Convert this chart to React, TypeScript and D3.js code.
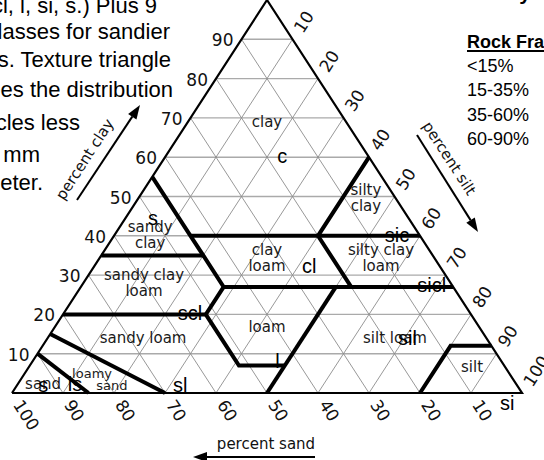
import React from 'react';
import * as d3 from 'd3';

type T3 = [number, number, number]; // [sand, silt, clay]

const gridValues = [10, 20, 30, 40, 50, 60, 70, 80, 90];
const clayTicks = [10, 20, 30, 40, 50, 60, 70, 80, 90];
const sandTicks = [100, 90, 80, 70, 60, 50, 40, 30, 20, 10];
const siltTicks = [10, 20, 30, 40, 50, 60, 70, 80, 90, 100];

const boundaries: T3[][] = [
  [[45, 0, 55], [45, 15, 40], [45, 20, 35], [45, 28, 27], [52, 28, 20], [52, 41, 7], [43, 50, 7]],
  [[65, 0, 35], [45, 20, 35]],
  [[45, 15, 40], [0, 60, 40]],
  [[0, 40, 60], [20, 40, 40], [20, 53, 27]],
  [[45, 28, 27], [0, 73, 27]],
  [[80, 0, 20], [52, 28, 20]],
  [[23, 50, 27], [50, 50, 0]],
  [[20, 80, 0], [8, 80, 12], [0, 88, 12]],
  [[85, 0, 15], [70, 30, 0]],
  [[90, 0, 10], [85, 15, 0]],
];

// class names: lines of text, ternary anchor (centre of first baseline)
const classNames: { lines: string[]; at: T3; size: number }[] = [
  { lines: ['clay'], at: [16.15, 16.15, 67.7], size: 15 },
  { lines: ['silty', 'clay'], at: [5.4, 44.2, 50.4], size: 15 },
  { lines: ['sandy', 'clay'], at: [52.4, 6.6, 41], size: 15 },
  { lines: ['clay', 'loam'], at: [32.45, 32.45, 35.1], size: 15 },
  { lines: ['silty clay', 'loam'], at: [10.1, 54.8, 35.1], size: 15 },
  { lines: ['sandy clay', 'loam'], at: [59.75, 11.5, 28.75], size: 15 },
  { lines: ['sandy loam'], at: [67.95, 19.35, 12.7], size: 15 },
  { lines: ['loam'], at: [42.25, 42.25, 15.5], size: 15 },
  { lines: ['silt loam'], at: [18.55, 68.75, 12.7], size: 15 },
  { lines: ['silt'], at: [7.15, 87.55, 5.3], size: 15 },
  { lines: ['loamy'], at: [82.4, 13.8, 3.8], size: 13 },
  { lines: ['sand'], at: [80, 19.2, 0.8], size: 13 },
  { lines: ['sand'], at: [93.4, 5.6, 1], size: 15 },
];

// abbreviations: text and ternary anchor (start of baseline)
const abbrevs: { text: string; at: T3 }[] = [
  { text: 'c', at: [18.75, 22.75, 58.5] },
  { text: 's', at: [52, 5.3, 42.7] },
  { text: 'sic', at: [7.7, 53.9, 38.4] },
  { text: 'cl', at: [27.9, 41.6, 30.5] },
  { text: 'sicl', at: [7.7, 66.6, 25.7] },
  { text: 'scl', at: [58.2, 23.2, 18.6] },
  { text: 'l', at: [45.2, 48.4, 6.4] },
  { text: 'sil', at: [18.2, 69.6, 12.2] },
  { text: 'sl', at: [68.3, 31.4, 0.3] },
  { text: 'ls', at: [88.8, 10.7, 0.5] },
  { text: 's', at: [94.7, 5, 0.3] },
  { text: 'si', at: [6.45, 97.85, -4.3] },
];

const legendTitle = 'Rock Fragments';
const legendItems = ['<15%', '15-35%', '35-60%', '60-90%'];

const paragraph = [
  'sicl, l, si, s.) Plus 9',
  'subclasses for sandier',
  'textures. Texture triangle',
  'describes the distribution',
  'of particles less',
  'than 2 mm',
  'in diameter.',
];
const paraEnds = [157, 170, 171, 173, 80, 40, 43];
const paraBase = [13, 39, 67, 97, 130, 162, 190];

const xs = d3.scaleLinear().domain([0, 100]).range([12, 522]);
const ys = d3.scaleLinear().domain([0, 100]).range([393, 0]);
const pt = (p: T3): [number, number] => [xs(p[1] + p[2] / 2), ys(p[2])];
const line = d3.line<T3>().x((d) => pt(d)[0]).y((d) => pt(d)[1]);

const ANG = (Math.atan2(ys(0) - ys(100), xs(50) - xs(0)) * 180) / Math.PI;
const CA = Math.cos((ANG * Math.PI) / 180);
const SA = Math.sin((ANG * Math.PI) / 180);

const SANS = 'DejaVu Sans, Verdana, sans-serif';
const ARIAL = 'Liberation Sans, Arial, sans-serif';

function Arrow({ x1, y1, x2, y2 }: { x1: number; y1: number; x2: number; y2: number }) {
  const dx = x2 - x1, dy = y2 - y1;
  const L = Math.hypot(dx, dy);
  const ux = dx / L, uy = dy / L;
  const hl = 14, hw = 5;
  const bx = x2 - ux * hl, by = y2 - uy * hl;
  const pts = `${x2},${y2} ${bx - uy * hw},${by + ux * hw} ${bx + uy * hw},${by - ux * hw}`;
  return (
    <g>
      <line x1={x1} y1={y1} x2={bx} y2={by} stroke="#000" strokeWidth={2} />
      <polygon points={pts} fill="#000" />
    </g>
  );
}

export default function App() {
  const gridH = gridValues.map((v) => [[100 - v, 0, v], [0, 100 - v, v]] as T3[]);
  const gridSand = gridValues.map((v) => [[v, 100 - v, 0], [v, 0, 100 - v]] as T3[]);
  const gridSilt = gridValues.map((v) => [[100 - v, v, 0], [0, v, 100 - v]] as T3[]);
  const outline: T3[] = [[100, 0, 0], [0, 100, 0], [0, 0, 100], [100, 0, 0]];

  return (
    <svg
      width={544}
      height={460}
      style={{ position: 'absolute', left: 0, top: 0, background: '#fff', overflow: 'hidden' }}
    >
      <rect width={544} height={460} fill="#fff" />
      {/* paragraph */}
      {paragraph.map((t, i) => (
        <text key={i} x={paraEnds[i]} y={paraBase[i]} textAnchor="end" fontFamily={ARIAL} fontSize={22} fill="#000">
          {t}
        </text>
      ))}
      {/* clipped title */}
      <text x={531} y={0} textAnchor="end" fontFamily={ARIAL} fontSize={21} fontWeight="bold" fill="#000">
        Texture Summary
      </text>
      {/* legend */}
      <text x={467} y={48} fontFamily={ARIAL} fontSize={18} fontWeight="bold" fill="#000">
        {legendTitle}
      </text>
      <line x1={467} y1={51} x2={544} y2={51} stroke="#000" strokeWidth={1.8} />
      {legendItems.map((t, i) => (
        <text key={t} x={467} y={72 + i * 24.3} fontFamily={ARIAL} fontSize={18} fill="#000">
          {t}
        </text>
      ))}

      {/* grid */}
      {gridH.map((g, i) => (
        <path key={'h' + i} d={line(g) || ''} stroke="#aaa" strokeWidth={1.4} fill="none" />
      ))}
      {gridSand.map((g, i) => (
        <path key={'s' + i} d={line(g) || ''} stroke="#8c8c8c" strokeWidth={0.9} fill="none" />
      ))}
      {gridSilt.map((g, i) => (
        <path key={'t' + i} d={line(g) || ''} stroke="#8c8c8c" strokeWidth={0.9} fill="none" />
      ))}

      {/* class labels */}
      {classNames.map((c, i) => {
        const [x, y] = pt(c.at);
        return (
          <text key={i} x={x} y={y} textAnchor="middle" fontFamily={SANS} fontSize={c.size} fill="#1a1a1a">
            {c.lines.map((l, j) => (
              <tspan key={j} x={x} dy={j === 0 ? 0 : 16}>
                {l}
              </tspan>
            ))}
          </text>
        );
      })}

      {/* boundaries */}
      {boundaries.map((b, i) => (
        <path key={i} d={line(b) || ''} stroke="#000" strokeWidth={4} fill="none" strokeLinejoin="miter" />
      ))}
      <path d={line(outline) || ''} stroke="#000" strokeWidth={2.2} fill="none" strokeLinejoin="miter" />

      {/* abbreviations */}
      {abbrevs.map((a, i) => {
        const [x, y] = pt(a.at);
        return (
          <text key={i} x={x} y={y} fontFamily={ARIAL} fontSize={20} fill="#000">
            {a.text}
          </text>
        );
      })}

      {/* clay ticks */}
      {clayTicks.map((v) => {
        const [x, y] = pt([100 - v, 0, v]);
        return (
          <text key={'c' + v} x={x - 8} y={y + 7} textAnchor="end" fontFamily={SANS} fontSize={17} fill="#111">
            {v}
          </text>
        );
      })}
      {/* sand ticks */}
      {sandTicks.map((v) => {
        const [x0, y0] = pt([v, 100 - v, 0]);
        const x = x0 + CA * 10, y = y0 + SA * 10;
        return (
          <text
            key={'s' + v}
            x={0}
            y={0}
            transform={`translate(${x},${y}) rotate(${ANG})`}
            dominantBaseline="central"
            fontFamily={SANS}
            fontSize={17}
            fill="#111"
          >
            {v}
          </text>
        );
      })}
      {/* silt ticks */}
      {siltTicks.map((v) => {
        const [x0, y0] = pt([0, v, 100 - v]);
        const x = x0 + CA * 10, y = y0 - SA * 10;
        return (
          <text
            key={'t' + v}
            x={0}
            y={0}
            transform={`translate(${x},${y}) rotate(${-ANG})`}
            dominantBaseline="central"
            fontFamily={SANS}
            fontSize={17}
            fill="#111"
          >
            {v}
          </text>
        );
      })}

      {/* axis titles */}
      <text transform={`translate(89,162) rotate(${-ANG})`} textAnchor="middle" fontFamily={SANS} fontSize={15} fill="#111">
        percent clay
      </text>
      <Arrow x1={77} y1={200} x2={140} y2={105} />
      <text transform={`translate(445,161) rotate(${ANG})`} textAnchor="middle" fontFamily={SANS} fontSize={15} fill="#111">
        percent silt
      </text>
      <Arrow x1={417} y1={135} x2={478} y2={232} />
      <text x={266} y={449} textAnchor="middle" fontFamily={SANS} fontSize={15} fill="#111">
        percent sand
      </text>
      <Arrow x1={315} y1={457} x2={193} y2={457} />
    </svg>
  );
}
